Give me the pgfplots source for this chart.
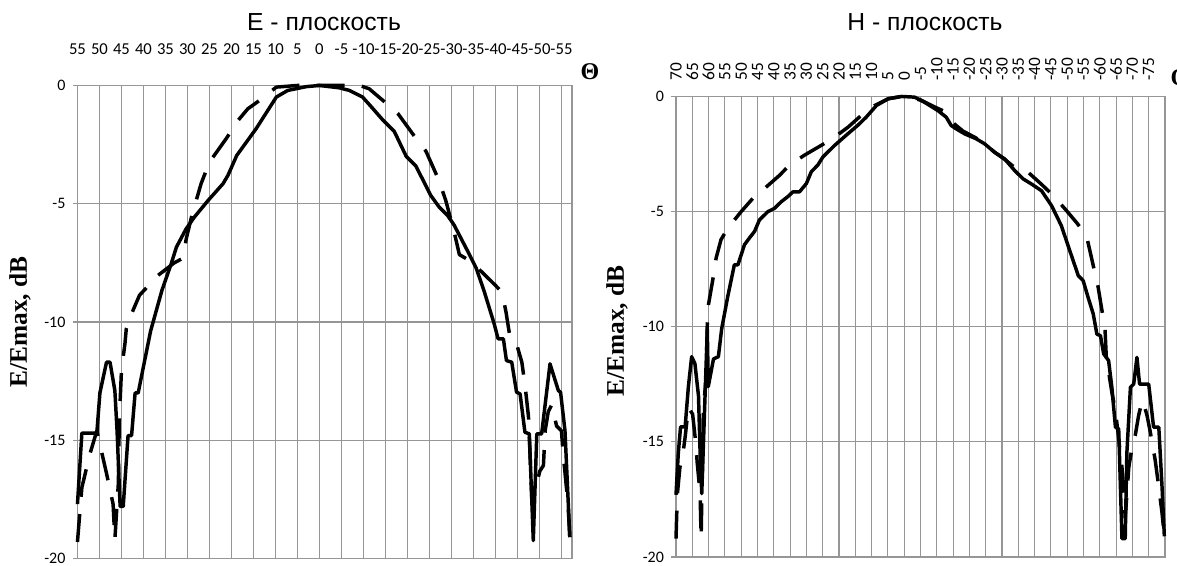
\documentclass[border=0pt]{standalone}
\usepackage{fontspec}
\setmainfont{Carlito}
\newfontfamily\arialf{Liberation Sans}
\newfontfamily\timesf{Liberation Serif}
\usepackage{pgfplots}
\pgfplotsset{compat=1.18}
\definecolor{gridc}{RGB}{150,150,150}
\pgfplotsset{
  myax/.style={
    scale only axis, x dir=reverse, clip=false,
    ymin=-20, ymax=0, ytick={0,-5,-10,-15,-20}, yticklabels={0,-5,-10,-15,-20},
    grid=major, major grid style={gridc, line width=0.8pt},
    axis line style={gridc, line width=0.8pt},
    ytick pos=left, xticklabel pos=right,
    tick align=outside, major tick length=3.5pt,
    ytick style={gridc, line width=0.8pt},
    xtick style={draw=none},
    yticklabel style={font=\fontsize{12}{12}\selectfont, text=black, xshift=-2pt},
    xticklabel style={font=\fontsize{12.5}{12.5}\selectfont, text=black},
  },
  solidc/.style={black, line width=2.6pt, line join=round},
  dashc/.style={black, line width=2.6pt, dash pattern=on 21pt off 13pt, line join=round},
}
\begin{document}
\begin{tikzpicture}
\useasboundingbox (0,0) rectangle (882.75pt,424.5pt);
% ---------- E-plane ----------
\begin{axis}[myax, at={(58.1pt,5.6pt)}, anchor=south west,
  width=370.9pt, height=354.8pt,
  xmin=-57.4, xmax=55,
  xtick={55,50,45,40,35,30,25,20,15,10,5,0,-5,-10,-15,-20,-25,-30,-35,-40,-45,-50,-55},
  xticklabels={55,50,45,40,35,30,25,20,15,10,5,0,-5,-10,-15,-20,-25,-30,-35,-40,-45,-50,-55},
  xticklabel style={yshift=16pt}]
\addplot[solidc] coordinates {
(55.0,-17.7) (54.0,-14.7) (50.6,-14.7) (49.9,-13.0) (48.4,-11.7) (47.6,-11.7)
(46.5,-12.9) (46.0,-14.6) (45.3,-17.8) (44.6,-17.8) (43.5,-14.8) (42.7,-14.8)
(41.9,-13.0) (41.2,-13.0) (38.4,-10.4) (35.8,-8.66) (33.7,-7.54) (32.5,-6.83)
(30.3,-6.06) (28.4,-5.56) (25.3,-4.86) (21.9,-4.15) (20.8,-3.80) (18.8,-2.96)
(14.4,-1.83) (9.8,-0.49) (7.2,-0.21) (3,-0.05) (0,0) (-4.5,-0.1) (-6.8,-0.21)
(-9.8,-0.49) (-12.1,-0.97) (-14.4,-1.46) (-17.0,-1.94) (-19.7,-2.99) (-21.9,-3.40)
(-25.3,-4.65) (-27.2,-5.14) (-29.1,-5.49) (-30.6,-5.90) (-33.7,-7.01) (-35.6,-7.71)
(-37.4,-8.68) (-39.7,-10.07) (-40.6,-10.71) (-41.8,-10.71) (-42.5,-11.63) (-43.7,-11.7)
(-44.8,-12.97) (-45.6,-13.04) (-46.7,-14.66) (-47.7,-14.73) (-48.6,-19.24) (-49.4,-14.73)
(-50.5,-14.73) (-52.4,-11.77) (-54.3,-12.9) (-54.8,-12.97) (-55.8,-14.59) (-56.9,-19.1)
};
\addplot[dashc] coordinates {
(55.0,-19.3) (54.0,-17.0) (52.2,-15.6) (50.6,-14.6) (49.5,-15.5) (48.4,-16.4)
(46.9,-17.7) (46.5,-19.2) (45.7,-16.8) (45.5,-14.2) (45.0,-12.05) (44.2,-10.9)
(43.9,-10.28) (42.7,-9.65) (40.9,-8.87) (36.7,-8.03) (33.0,-7.5) (31.0,-7.3)
(30.3,-6.5) (29.0,-5.5) (26.9,-4.15) (25.0,-3.24) (21.2,-2.25) (18.5,-1.48)
(16.3,-0.99) (13.6,-0.63) (9.8,-0.07) (5,0) (0,0) (-5,0) (-9.1,0) (-11.3,-0.14)
(-14.4,-0.63) (-17.8,-1.18) (-21.6,-2.15) (-24.2,-2.78) (-27.2,-4.03) (-28.7,-4.86)
(-30.6,-6.18) (-31.8,-7.15) (-33.7,-7.36) (-36.7,-7.85) (-40.1,-8.47) (-41.5,-8.75)
(-42.4,-9.58) (-43.3,-10.64) (-44.8,-10.93) (-46.0,-11.7) (-46.7,-12.64) (-47.5,-13.98)
(-48.3,-17.6) (-50.1,-16.3) (-50.9,-16.07) (-51.3,-14.59) (-52.0,-13.8) (-52.8,-13.5)
(-53.9,-14.4) (-55.0,-14.6) (-55.4,-15.6) (-56.5,-17.7) (-56.9,-19.1)
};
\end{axis}
% ---------- H-plane ----------
\begin{axis}[myax, at={(507pt,6.75pt)}, anchor=south west,
  width=366.75pt, height=345.4pt,
  xmin=-80, xmax=70,
  xtick={70,65,60,55,50,45,40,35,30,25,20,15,10,5,0,-5,-10,-15,-20,-25,-30,-35,-40,-45,-50,-55,-60,-65,-70,-75,-80},
  xticklabels={70,65,60,55,50,45,40,35,30,25,20,15,10,5,0,-5,-10,-15,-20,-25,-30,-35,-40,-45,-50,-55,-60,-65,-70,-75,{}},
  xticklabel style={rotate=90, anchor=west, yshift=0pt, xshift=5pt, font=\fontsize{13}{13}\selectfont}]
\addplot[solidc] coordinates {
(70,-17.3) (69.3,-15.5) (68.6,-14.35) (67.2,-14.35) (66.2,-12.6) (65.2,-11.3)
(64.2,-11.6) (63.1,-13.0) (62.6,-15.5) (62.1,-17.25) (60.4,-10.1) (60.1,-12.6)
(58.5,-11.4) (57.0,-11.3) (56.0,-10.1) (54.1,-8.67) (52.1,-7.31) (51.0,-7.31)
(49.0,-6.44) (47.5,-6.15) (45.9,-5.86) (44.4,-5.36) (41.8,-5.0) (39.8,-4.86)
(37.7,-4.57) (35.7,-4.35) (34.1,-4.14) (32.1,-4.14) (30.0,-3.78) (28.5,-3.27)
(26.5,-2.98) (24.9,-2.62) (21.3,-2.12) (17.2,-1.61) (14.2,-1.25) (11.6,-0.89)
(8.5,-0.39) (4.9,-0.10) (0.8,0) (-3.2,-0.03) (-6.2,-0.25) (-10.3,-0.61)
(-12.9,-0.9) (-14.4,-1.26) (-16.0,-1.41) (-18.5,-1.62) (-22.1,-1.84) (-24.7,-2.06)
(-27.7,-2.42) (-30.8,-2.71) (-33.9,-3.22) (-36.5,-3.58) (-39.0,-3.80) (-42.1,-4.09)
(-45.2,-4.74) (-48.2,-5.61) (-50.8,-6.70) (-53.4,-7.78) (-54.9,-8.0) (-56.4,-8.72)
(-58.0,-9.45) (-59.1,-10.32) (-60.2,-10.39) (-61.2,-11.18) (-62.7,-11.47) (-63.7,-12.63)
(-64.8,-14.36) (-65.8,-14.44) (-66.8,-19.2) (-67.8,-19.2) (-68.3,-15.5) (-69.4,-12.63)
(-70.4,-12.49) (-71.4,-11.33) (-72.2,-12.49) (-75.0,-12.49) (-76.5,-14.36) (-78.1,-14.36)
(-79.1,-16.97) (-79.8,-19.1)
};
\addplot[dashc] coordinates {
(70,-19.2) (69.6,-17.3) (68.8,-16.1) (68.0,-15.65) (67.2,-14.8) (66.2,-13.5)
(64.9,-13.8) (63.9,-15.1) (63.5,-15.9) (62.6,-17.25) (62.3,-19.2) (61.6,-13.6)
(60.8,-12.3) (60.3,-9.25) (58.7,-7.95) (57.7,-7.02) (56.2,-6.22) (54.1,-5.72)
(50.0,-5.0) (46.4,-4.42) (42.8,-3.99) (38.2,-3.42) (35.2,-2.98) (30.6,-2.55)
(25.4,-2.12) (21.3,-1.76) (17.2,-1.33) (12.6,-0.75) (9.0,-0.39) (4.9,-0.10)
(0.8,0) (-5,-0.15) (-10,-0.5) (-12.4,-0.65) (-15,-1.15) (-18,-1.5) (-22,-1.8)
(-25,-2.1) (-28,-2.45) (-31,-2.75) (-34,-3.1) (-38.0,-3.29) (-42,-3.8) (-45.7,-4.30)
(-49.8,-4.96) (-53,-5.5) (-55.9,-6.04) (-57.3,-6.91) (-59.5,-8.29) (-61.6,-10.1)
(-62.0,-11.33) (-63.7,-12.85) (-64.8,-13.64) (-66.8,-16.1) (-67.3,-16.97) (-67.8,-18.3)
(-68.9,-16.1) (-69.9,-15.23) (-70.9,-14.7) (-71.9,-13.86) (-73.0,-13.2) (-73.8,-13.5)
(-74.5,-13.86) (-75.5,-14.58) (-77.0,-15.8) (-78.1,-16.97) (-79.1,-18.1) (-79.8,-19.1)
};
\end{axis}
% ---------- texts ----------
\node[font=\arialf\fontsize{18.5}{20}\selectfont] at (243pt,408pt) {E - плоскость};
\node[font=\arialf\fontsize{18.5}{20}\selectfont] at (693.75pt,408pt) {H - плоскость};
\node[font=\timesf\bfseries\fontsize{18}{18}\selectfont] at (442.5pt,370.5pt) {Θ};
\node[font=\timesf\bfseries\fontsize{18}{18}\selectfont] at (885pt,366pt) {Θ};
\node[rotate=90, font=\timesf\bfseries\fontsize{19}{19}\selectfont] at (15pt,183pt) {E/Emax, dB};
\node[rotate=90, font=\timesf\bfseries\fontsize{19}{19}\selectfont] at (462.75pt,176.25pt) {E/Emax, dB};
\end{tikzpicture}
\end{document}
